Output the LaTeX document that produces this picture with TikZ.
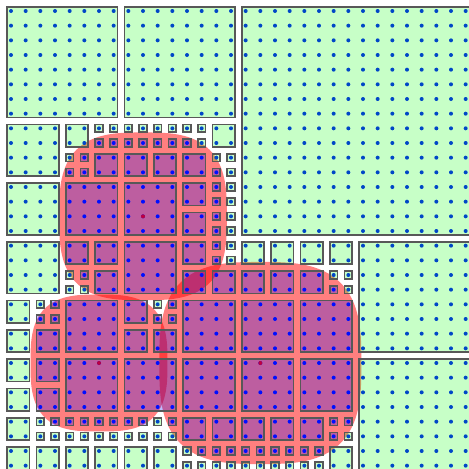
\documentclass[tikz,border=0pt]{standalone}
\usepackage{tikz}
\definecolor{boxc}{RGB}{88,88,88}
\definecolor{dotc}{RGB}{0,20,255}
\definecolor{cdot}{RGB}{255,0,0}
\tikzset{
 gbox/.style={draw=boxc, line width=1.6pt, fill=green, fill opacity=0.22},
 pbox/.style={draw=boxc, line width=1.6pt, fill=blue, fill opacity=0.26},
 blobfill/.style={fill=red, fill opacity=0.5},
 ptdot/.style={fill=dotc},
 ctrdot/.style={fill=cdot},
}
\newcommand\padq{0.26}
\newcommand\leafbox[4]{\path[#4] ({#1-\padq},{#2-\padq}) rectangle ({#1+#3-1+\padq},{#2+#3-1+\padq});}
\newcommand\squircle[3]{\path[blobfill] plot[domain=0:360, samples=145, variable=\t] ({#1+#3*cos(\t)/(abs(cos(\t))^3+abs(sin(\t))^3)^(1/3)},{#2+#3*sin(\t)/(abs(cos(\t))^3+abs(sin(\t))^3)^(1/3)}) -- cycle;}
\begin{document}
\begin{tikzpicture}[x=14.6667pt, y=-14.6667pt]
\useasboundingbox (-0.75,-0.75) rectangle (31.2273,31.2273);
% query regions
\squircle{9}{14}{5.72}
\squircle{6}{24}{4.67}
\squircle{17}{24}{6.89}
% points
\foreach \i in {0,...,31}{\foreach \j in {0,...,31}{\fill[ptdot] (\i,\j) circle (2pt);}}
\foreach \i/\j in {9/14, 6/24, 17/24}{\fill[ctrdot] (\i,\j) circle (2pt);}
% green leaves (blocks)
\foreach \i/\j/\s in {0/0/8, 8/0/8, 16/0/16, 0/8/4, 0/12/4, 4/8/2, 14/8/2,
  0/16/4, 0/20/2, 0/22/2, 0/24/2, 0/26/2, 0/28/2,
  0/30/2, 2/30/2, 4/30/2, 6/30/2, 8/30/2, 10/30/2,
  16/16/2, 18/16/2, 20/16/2, 22/16/2, 24/16/8, 24/24/8, 22/30/2}
  {\leafbox{\i}{\j}{\s}{gbox}}
% green single leaves
\foreach \i/\j in {6/8, 7/8, 8/8, 9/8, 10/8, 11/8, 12/8, 13/8, 13/9,
  4/10, 14/10, 15/10, 15/11, 15/12, 15/13, 15/14, 15/15,
  4/18, 4/19, 5/19, 15/16, 15/17, 2/20, 10/20,
  2/28, 2/29, 3/29, 4/29, 5/29, 6/29, 7/29, 8/29, 9/29, 10/28, 10/29, 11/29,
  12/30, 12/31, 13/31, 14/31, 15/31,
  22/18, 23/18, 23/19, 23/29,
  16/31, 17/31, 18/31, 19/31, 20/31, 21/31}
  {\leafbox{\i}{\j}{1}{gbox}}
% inside leaves (blocks)
\foreach \i/\j/\s in {4/12/4, 8/12/4, 6/10/2, 8/10/2, 10/10/2, 12/10/2, 12/12/2, 12/14/2,
  4/16/2, 6/16/2, 6/18/2, 8/16/4, 12/16/2, 12/18/2, 14/18/2,
  2/22/2, 4/20/4, 8/20/2, 8/22/2, 10/22/2, 12/20/4,
  2/24/2, 2/26/2, 4/24/4, 8/24/4, 12/24/4, 12/28/2, 14/28/2,
  16/18/2, 18/18/2, 20/18/2, 16/20/4, 20/20/4, 16/24/4, 20/24/4,
  16/28/2, 18/28/2, 20/28/2}
  {\leafbox{\i}{\j}{\s}{pbox}}
% inside single leaves
\foreach \i/\j in {6/9, 7/9, 8/9, 9/9, 10/9, 11/9, 12/9,
  5/10, 4/11, 5/11, 14/11, 14/12, 14/13, 14/14, 14/15,
  5/18, 14/16, 14/17, 3/20, 2/21, 3/21, 11/20, 10/21, 11/21,
  3/28, 4/28, 5/28, 6/28, 7/28, 8/28, 9/28, 11/28,
  13/30, 14/30, 15/30,
  22/19, 22/28, 23/28, 22/29,
  16/30, 17/30, 18/30, 19/30, 20/30, 21/30}
  {\leafbox{\i}{\j}{1}{pbox}}
\end{tikzpicture}
\end{document}
